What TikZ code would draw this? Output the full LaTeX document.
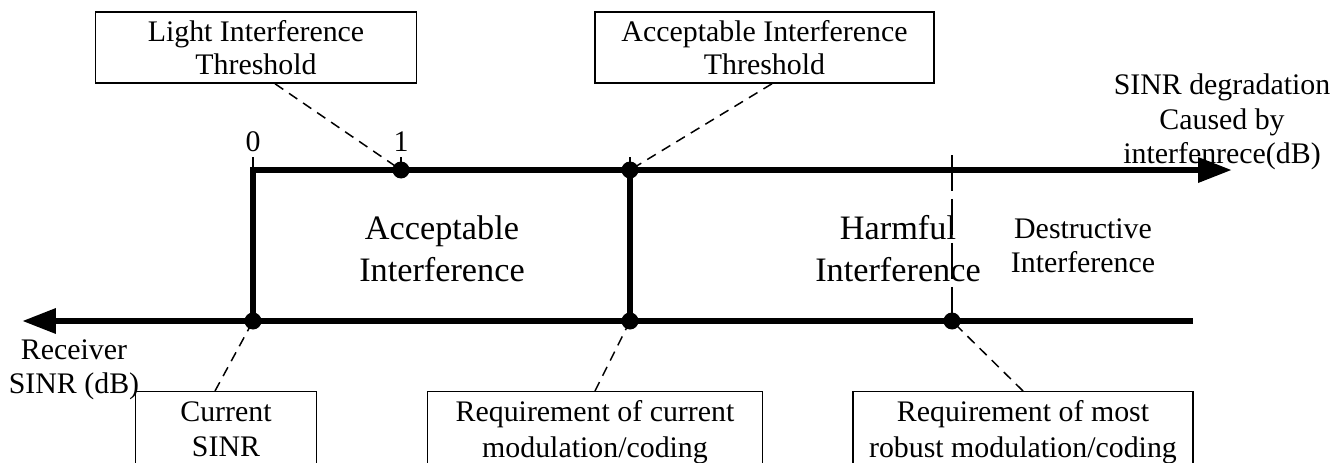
\documentclass[tikz,border=0pt]{standalone}
\usepackage{fontspec}
\setmainfont{Liberation Serif}
\usetikzlibrary{arrows.meta}
\tikzset{
  labelbox/.style={draw, line width=0.85pt, align=center, inner sep=0pt,
    font=\fontsize{17}{19}\selectfont},
  lowbox/.style={labelbox, anchor=north, minimum height=1.62cm,
    font=\fontsize{17}{20}\selectfont},
  axtext/.style={align=center, inner sep=0pt, font=\fontsize{17}{19.5}\selectfont},
  zone/.style={align=center, inner sep=0pt, font=\fontsize{19.5}{23.8}\selectfont},
  axisline/.style={line width=0.13cm},
  bigtip/.style={-{Triangle[length=0.68cm,width=0.48cm]}},
  leader/.style={line width=0.85pt, dash pattern=on 0.2cm off 0.14cm},
  sinrdot/.style={circle, fill=black, inner sep=0pt, minimum size=0.34cm}
}

\begin{document}
\begin{tikzpicture}[x=0.02cm, y=-0.02cm]
\useasboundingbox (0,0) rectangle (1342,463);
\clip (0,0) rectangle (1342,463);

\coordinate (zero)    at (253,170);
\coordinate (light)   at (401,170);
\coordinate (accept)  at (630,170);
\coordinate (uptip)   at (1232,170);
\coordinate (cursinr) at (253,321);
\coordinate (reqcur)  at (630,321);
\coordinate (reqrob)  at (952,321);
\coordinate (lowend)  at (1193,321);
\coordinate (lowtip)  at (22,321);
\coordinate (dtop)    at (952,155);

\draw[axisline, bigtip] (cursinr) |- (uptip);
\draw[axisline, bigtip] (lowend) -- (lowtip);
\draw[axisline] (reqcur) -- (accept);
\draw[line width=1pt, dash pattern=on 0.72cm off 0.16cm] (dtop) -- (reqrob);
\draw[line width=0.85pt] (zero)   -- ++(0,-13);
\draw[line width=0.85pt] (light)  -- ++(0,-13);
\draw[line width=0.85pt] (accept) -- ++(0,-13);

\node (lab0) [axtext] at (253,142) {0};
\node (lab1) [axtext] at (401,142) {1};

\node (litbox) [labelbox, minimum width=6.42cm, minimum height=1.42cm] at (256,47.5)
      {Light Interference\\Threshold};
\node (aitbox) [labelbox, minimum width=6.78cm, minimum height=1.42cm] at (764.5,47.5)
      {Acceptable Interference\\Threshold};
\node (curbox) [lowbox, minimum width=3.62cm, minimum height=1.5cm] at (226,391)
      {Current\\SINR};
\node (rcbox)  [lowbox, minimum width=6.7cm]  at (595,391)
      {Requirement of current\\modulation/coding};
\node (rrbox)  [lowbox, minimum width=6.8cm]  at (1023,391)
      {Requirement of most\\robust modulation/coding};

\node (accz)  [zone]   at (442,249)  {Acceptable\\Interference};
\node (harmz) [zone]   at (898,249)  {Harmful\\Interference};
\node (destz) [axtext] at (1083,246) {Destructive\\Interference};
\node (degr)  [axtext] at (1222,122) {SINR degradation\\Caused by\\interfenrece(dB)};
\node (rxs)   [axtext] at (74,370)   {Receiver\\SINR (dB)};

\draw[leader] ([xshift=0.38cm]litbox.south) -- (light);
\draw[leader] ([xshift=0.15cm]aitbox.south) -- (accept);
\draw[leader] ([xshift=-0.22cm]curbox.north) -- (cursinr);
\draw[leader] (rcbox.north) -- (reqcur);
\draw[leader] (rrbox.north) -- (reqrob);

\node (d0)  [sinrdot] at (light)   {};
\node (d1)  [sinrdot] at (accept)  {};
\node (d2)  [sinrdot] at (cursinr) {};
\node (d3)  [sinrdot] at (reqcur)  {};
\node (d4)  [sinrdot] at (reqrob)  {};
\end{tikzpicture}
\end{document}
